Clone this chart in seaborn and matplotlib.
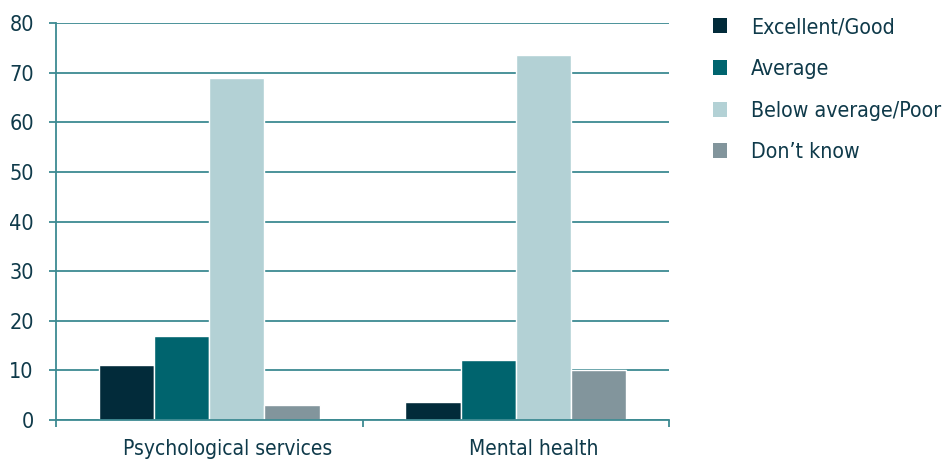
import matplotlib
matplotlib.use("Agg")
import matplotlib.pyplot as plt
import matplotlib.transforms as mtransforms
import seaborn as sns
import pandas as pd
from matplotlib.patches import Patch
from matplotlib import font_manager

categories = ["Psychological services", "Mental health"]
ratings = ["Excellent/Good", "Average", "Below average/Poor", "Don\u2019t know"]
excellent_good = [11, 3.6]
average = [17, 12]
below_average_poor = [69, 73.6]
dont_know = [3, 10]
y_ticks = [0, 10, 20, 30, 40, 50, 60, 70, 80]
colors = ["#022b3a", "#00646e", "#b3d1d5", "#82959c"]

rows = []
for r, vals in zip(ratings, [excellent_good, average, below_average_poor, dont_know]):
    for c, v in zip(categories, vals):
        rows.append({"category": c, "rating": r, "value": v})
df = pd.DataFrame(rows)

sns.set_theme(style="white")
plt.rcParams["font.family"] = ["DejaVu Sans"]
cond = any(f.name == "DejaVu Sans" and f.stretch in ("condensed", 300, "semi-condensed")
           for f in font_manager.fontManager.ttflist)
if cond:
    plt.rcParams["font.stretch"] = "condensed"
text_color = "#0f3a4a"
line_color = "#3d8a92"

fig = plt.figure(figsize=(9.46, 4.61), dpi=100)
ax = fig.add_axes([0.0592, 0.0889, 0.6480, 0.8611])
sns.barplot(data=df, x="category", y="value", hue="rating", order=categories,
            hue_order=ratings, palette=colors, saturation=1, width=0.72,
            edgecolor="white", linewidth=1, ax=ax, legend=False)

ax.set_xlim(-0.5, 1.5)
ax.set_ylim(0, 80)
ax.set_yticks(y_ticks)
ax.set_yticklabels([str(t) for t in y_ticks])
ax.set_xlabel("")
ax.set_ylabel("")
ax.grid(axis="y", color=line_color, linewidth=1.3)
ax.set_axisbelow(True)
for s in ["top", "right"]:
    ax.spines[s].set_visible(False)
for s in ["left", "bottom"]:
    ax.spines[s].set_color(line_color)
    ax.spines[s].set_linewidth(1.3)
ax.tick_params(axis="y", direction="out", length=5, width=1.3, color=line_color,
               pad=11, labelsize=15.5, labelcolor=text_color, left=True)
ax.set_xticks([-0.5, 0.5, 1.5], minor=True)
ax.tick_params(axis="x", which="minor", direction="out", length=5, width=1.3,
               color=line_color, bottom=True)
ax.tick_params(axis="x", which="major", length=0, pad=14, labelsize=15,
               labelcolor=text_color)
shift = mtransforms.ScaledTranslation(18 / 100, 0, fig.dpi_scale_trans)
for lbl in ax.get_xticklabels():
    lbl.set_transform(lbl.get_transform() + shift)

handles = [Patch(facecolor=c, edgecolor="none") for c in colors]
fig.legend(handles, ratings, loc="upper left", bbox_to_anchor=(0.733, 1.004),
           frameon=False, fontsize=15.3, handlelength=0.7, handleheight=0.7,
           handletextpad=1.12, labelspacing=1.02, labelcolor=text_color)

fig.savefig("out.png", dpi=100)
